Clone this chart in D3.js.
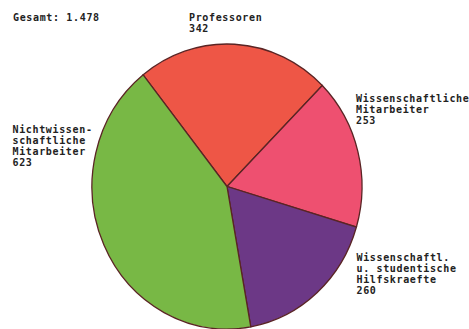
<!DOCTYPE html>
<html><head><meta charset="utf-8">
<script src="https://cdn.jsdelivr.net/npm/d3@7"></script>
<style>body{margin:0;background:#fff;} text{font-family:"DejaVu Sans Mono",monospace;font-size:10px;font-weight:bold;letter-spacing:0.65px;fill:#222;}</style>
</head><body>
<svg id="c" width="469" height="329"></svg>
<script>
const categories = ["Professoren", "Wissenschaftliche Mitarbeiter", "Wissenschaftl. u. studentische Hilfskraefte", "Nichtwissenschaftliche Mitarbeiter"];
const values = [342, 253, 260, 623];
const labelLines = [
  ["Professoren", "342"],
  ["Wissenschaftliche", "Mitarbeiter", "253"],
  ["Wissenschaftl.", "u. studentische", "Hilfskraefte", "260"],
  ["Nichtwissen-", "schaftliche", "Mitarbeiter", "623"]
];
const colors = ["#ee5646", "#ee5070", "#6c3886", "#78b845"];
const totalLabel = "Gesamt: 1.478";

const svg = d3.select("#c");
const cx = 227, cy = 186.5, rx = 135, ry = 142.5;
const a0 = -38.4 * Math.PI / 180;
const pie = d3.pie().sort(null).startAngle(a0).endAngle(a0 + 2 * Math.PI);
const arc = d3.arc().innerRadius(0).outerRadius(rx);
const g = svg.append("g").attr("transform", `translate(${cx},${cy}) scale(1,${ry / rx})`);
g.selectAll("path").data(pie(values)).join("path")
  .attr("d", arc)
  .attr("fill", (d, i) => colors[i])
  .attr("stroke", "#5a2424")
  .attr("stroke-width", 1.3)
  .attr("vector-effect", "non-scaling-stroke");

svg.append("text").attr("x", 13).attr("y", 20.5).text(totalLabel);

const labelPos = [[189, 20.5], [356, 101.5], [356.5, 260.5], [12.5, 132.5]];
const lh = 11;
labelLines.forEach((lines, i) => {
  const t = svg.append("text").attr("x", labelPos[i][0]).attr("y", labelPos[i][1]);
  lines.forEach((ln, j) => {
    t.append("tspan").attr("x", labelPos[i][0]).attr("dy", j === 0 ? 0 : lh).text(ln);
  });
});
</script>
</body></html>
